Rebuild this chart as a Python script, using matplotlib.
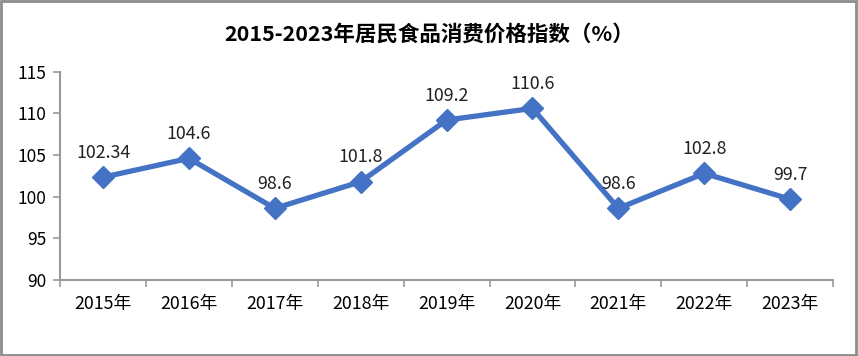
import matplotlib
matplotlib.use("Agg")
import matplotlib.pyplot as plt
from matplotlib.patches import Rectangle

plt.rcParams["font.family"] = ["Noto Sans CJK SC", "DejaVu Sans"]

years = ["2015年", "2016年", "2017年", "2018年", "2019年", "2020年", "2021年", "2022年", "2023年"]
values = [102.34, 104.6, 98.6, 101.8, 109.2, 110.6, 98.6, 102.8, 99.7]
labels = ["102.34", "104.6", "98.6", "101.8", "109.2", "110.6", "98.6", "102.8", "99.7"]
title = "2015-2023年居民食品消费价格指数（%）"

fig = plt.figure(figsize=(8.58, 3.56), dpi=100)
ax = fig.add_axes([0.07, 0.2135, 0.901, 0.585])

x = list(range(len(years)))
ax.plot(x, values, color="#4472C4", lw=3.8, marker="D", ms=11, zorder=3)
for xi, v, t in zip(x, values, labels):
    ax.annotate(t, (xi, v), xytext=(0, 11), textcoords="offset points",
                ha="center", va="bottom", fontsize=12.8, color="#222222")

ax.set_xlim(-0.5, len(years) - 0.5)
ax.set_ylim(90, 115)
ax.set_yticks([90, 95, 100, 105, 110, 115])
ax.set_xticks(x)
ax.set_xticklabels(years)
ax.set_xticks([i - 0.5 for i in range(len(years) + 1)], minor=True)
ax.tick_params(axis="x", which="major", length=0, pad=11, labelsize=12.8)
ax.tick_params(axis="x", which="minor", length=5, color="#999999", width=1.2)
ax.tick_params(axis="y", length=5, color="#999999", width=1.2, labelsize=12.5, pad=5)
for s in ["top", "right"]:
    ax.spines[s].set_visible(False)
for s in ["left", "bottom"]:
    ax.spines[s].set_color("#999999")
    ax.spines[s].set_linewidth(1.5)

fig.text(0.5, 0.905, title, ha="center", va="center", fontsize=15.5, fontweight="bold")
fig.patches.append(Rectangle((0.001, 0.002), 0.997, 0.994, transform=fig.transFigure,
                             fill=False, edgecolor="#8c8c8c", lw=2))

fig.savefig("out.png", dpi=100)
